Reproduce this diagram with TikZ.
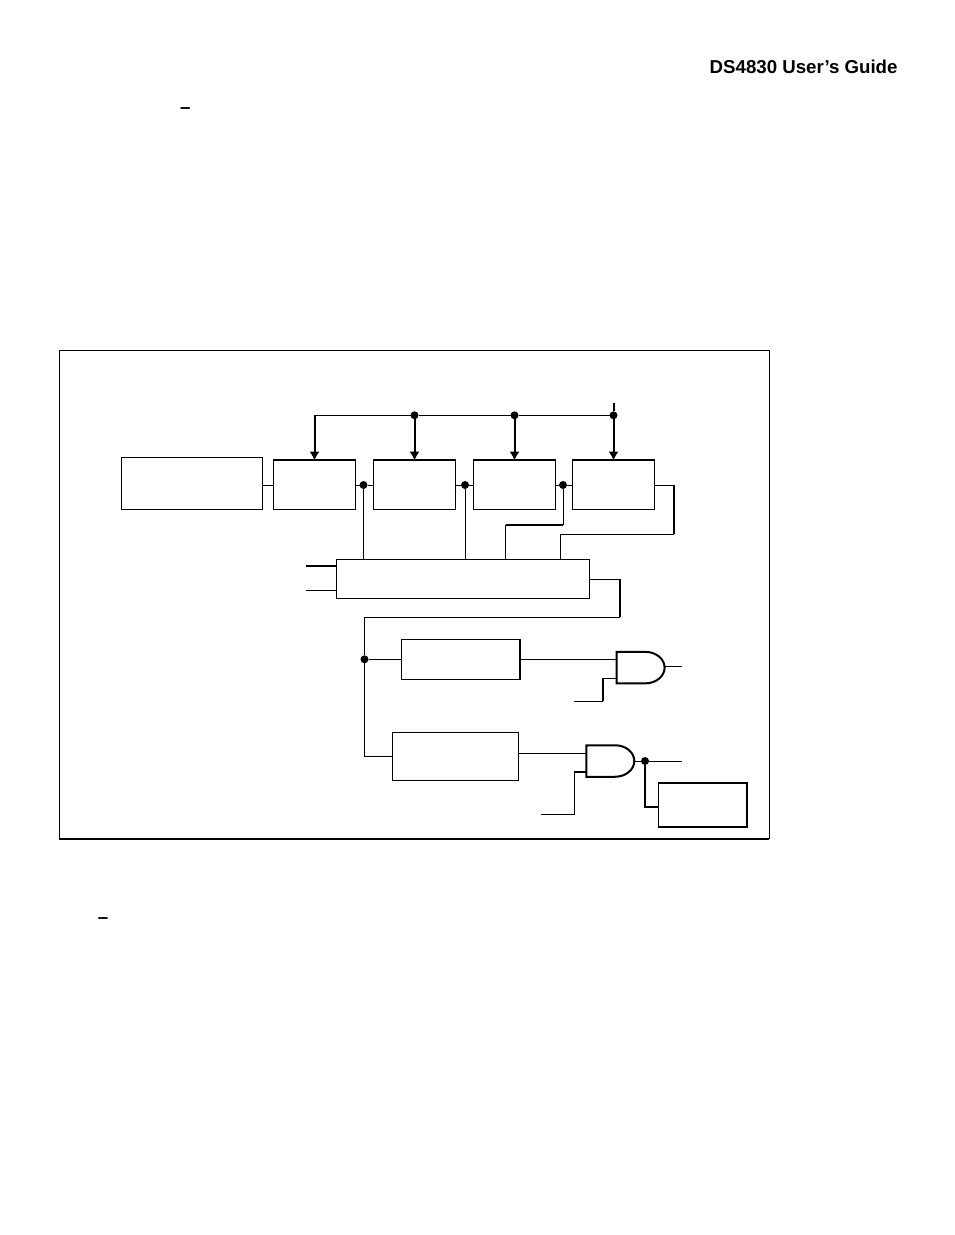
\documentclass[tikz,border=0pt]{standalone}
\usepackage{fontspec}
\setmainfont{Liberation Sans}
\usepackage{tikz}
\usetikzlibrary{arrows.meta,shapes.gates.logic.US}

\begin{document}
\begin{tikzpicture}[
		x=0.75pt,y=-0.75pt,
		line width=0.75pt,
		heavy/.style={line width=1.5pt},
		p1/.style={circle,fill,inner sep=0pt,outer sep=0pt,minimum size=6pt},
		regbox/.style={draw,inner sep=0pt,outer sep=0pt,minimum width=61.8pt,minimum height=37pt},
		andg/.style={and gate US,draw,heavy,logic gate inputs=nn,inner sep=0pt,outer sep=0pt,minimum width=36pt,minimum height=24pt,transform shape,yscale=0.82},
		title/.style={font=\fontsize{14}{16}\selectfont\bfseries,inner sep=0pt},
		>={Latex[length=6.5pt,width=7.5pt]}]
	\useasboundingbox (0,0) rectangle (954,1235);
	%% define page text
	\node (head) at (898,73) [title,anchor=base east] {DS4830 User’s Guide};
	\node (dasha) at (185.2,113.9) [title,anchor=base] {–};
	\node (dashb) at (103,923.2) [title,anchor=base] {–};
	%% define frame
	\node (frame) at (414.2,594.5) [draw,inner sep=0pt,outer sep=0pt,minimum width=532.5pt,minimum height=366.4pt] {};
	\draw[heavy] (frame.south west) -- (frame.south east);
	%% define boxes
	\node (src) at (191.7,483.2) [draw,inner sep=0pt,outer sep=0pt,minimum width=105.8pt,minimum height=39pt] {};
	\node (reg1) at (314.5,485) [regbox] {};
	\node (reg2) at (414.5,485) [regbox] {};
	\node (reg3) at (514.5,485) [regbox] {};
	\node (reg4) at (613.5,485) [regbox] {};
	\node (ctrl) at (463,578.8) [draw,inner sep=0pt,outer sep=0pt,minimum width=190pt,minimum height=29.3pt] {};
	\node (dlya) at (460.8,659.3) [draw,inner sep=0pt,outer sep=0pt,minimum width=89.2pt,minimum height=30pt] {};
	\node (dlyb) at (455.3,756.3) [draw,inner sep=0pt,outer sep=0pt,minimum width=94.5pt,minimum height=36pt] {};
	\node (outb) at (702.7,805) [draw,line width=1.1pt,inner sep=0pt,outer sep=0pt,minimum width=66.5pt,minimum height=33.2pt] {};
	\draw[heavy] (reg1.north west) -- (reg1.north east);
	\draw[heavy] (reg2.north west) -- (reg2.north east);
	\draw[heavy] (reg3.north west) -- (reg3.north east);
	\draw[heavy] (reg4.north west) -- (reg4.north east);
	\draw[heavy] (dlya.north east) -- (dlya.south east);
	%% define gates
	\node (gatea) at (639,667.6) [andg] {};
	\node (gateb) at (608.7,761) [andg] {};
	%% define points
	\node (bus2) at (414.5,415.3) [p1] {};
	\node (bus3) at (514.5,415.3) [p1] {};
	\node (bus4) at (613.5,415.3) [p1] {};
	\node (dot1) at (363.5,485) [p1] {};
	\node (dot2) at (465,485) [p1] {};
	\node (dot3) at (563,485) [p1] {};
	\node (dot4) at (364.5,659.3) [p1] {};
	\node (dot5) at (645,761) [p1] {};
	\coordinate (bus1) at (314.5,415.3);
	\coordinate (bustop) at (613.5,402.7);
	\coordinate (jog3a) at (563,525);
	\coordinate (jog3b) at (505.7,525);
	\coordinate (jog4a) at (674,485);
	\coordinate (jog4b) at (674,534.3);
	\coordinate (jog4c) at (560.3,534.3);
	\coordinate (ctrlr) at (620,579.3);
	\coordinate (ctrld) at (620,617.3);
	\coordinate (ctrll) at (364.5,617.3);
	\coordinate (ina) at (306,565.7);
	\coordinate (inb) at (306,590.3);
	\coordinate (busl) at (364.5,756);
	\coordinate (ena) at (603,678.3);
	\coordinate (enb) at (603,701);
	\coordinate (enc) at (574.3,701);
	\coordinate (fna) at (574,772);
	\coordinate (fnb) at (574,814.3);
	\coordinate (fnc) at (541,814.3);
	\coordinate (outa) at (681.7,666);
	\coordinate (outc) at (681.7,761);
	\coordinate (outd) at (645,806.7);
	%% define arrows
	\draw (bus1) -- (bus2) -- (bus3) -- (bus4);
	\draw[heavy] (bustop) -- (bus4);
	\draw[->,heavy] (bus1) -- (reg1.north);
	\draw[->,heavy] (bus2) -- (reg2.north);
	\draw[->,heavy] (bus3) -- (reg3.north);
	\draw[->,heavy] (bus4) -- (reg4.north);
	%% define wires
	\draw (reg1.west) -- (reg1.west -| src.east);
	\draw (reg1.east) -- (dot1) -- (reg2.west);
	\draw (reg2.east) -- (dot2) -- (reg3.west);
	\draw (reg3.east) -- (dot3) -- (reg4.west);
	\draw (dot1) -- (dot1 |- ctrl.north);
	\draw (dot2) -- (dot2 |- ctrl.north);
	\draw (dot3) -- (jog3a);
	\draw[heavy] (jog3a) -- (jog3b);
	\draw (jog3b) -- (jog3b |- ctrl.north);
	\draw (reg4.east) -- (jog4a);
	\draw[heavy] (jog4a) -- (jog4b);
	\draw (jog4b) -- (jog4c) -- (jog4c |- ctrl.north);
	\draw[heavy] (ina) -- (ina -| ctrl.west);
	\draw (inb) -- (inb -| ctrl.west);
	\draw (ctrlr -| ctrl.east) -- (ctrlr);
	\draw[heavy] (ctrlr) -- (ctrld);
	\draw (ctrld) -- (ctrll) -- (dot4) -- (busl) -- (busl -| dlyb.west);
	\draw (dot4) -- (dlya.west);
	\draw (dlya.east) -- (dlya.east -| gatea.west);
	\draw (ena -| gatea.west) -- (ena);
	\draw[heavy] (ena) -- (enb);
	\draw (enb) -- (enc);
	\draw (outa -| gatea.east) -- (outa);
	\draw (dlyb.east |- 0,753.3) -- (gateb.west |- 0,753.3);
	\draw[heavy] (fna -| gateb.west) -- (fna);
	\draw (fna) -- (fnb) -- (fnc);
	\draw (gateb.east) -- (dot5) -- (outc);
	\draw[heavy] (dot5) -- (outd) -- (outd -| outb.west);
\end{tikzpicture}
\end{document}
